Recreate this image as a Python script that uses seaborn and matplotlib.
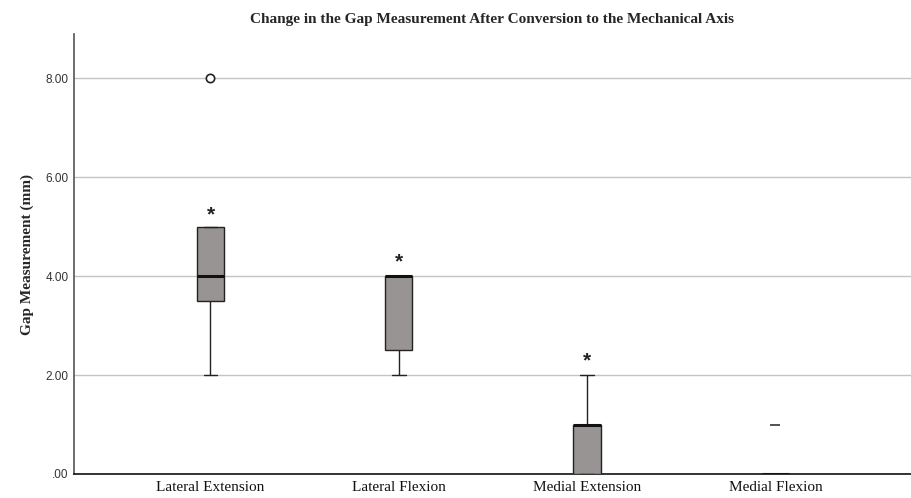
import matplotlib
matplotlib.use("Agg")
import matplotlib.pyplot as plt
import seaborn as sns
import pandas as pd

# ---- data ----
categories = ["Lateral Extension", "Lateral Flexion", "Medial Extension", "Medial Flexion"]
lateral_extension = [2, 3, 3.5, 4, 4, 5, 5, 5, 8]
lateral_flexion = [2, 2, 2.5, 3, 4, 4, 4, 4, 4]
medial_extension = [0, 0, 0, 0.5, 1, 1, 1, 1, 2]
medial_flexion = [0, 0, 0, 0, 0, 0, 0, 0, 1]

# outliers shown individually (circle / dash as in the source)
outlier_cats = ["Lateral Extension", "Medial Flexion"]
outlier_vals = [8, 1]
outlier_markers = ["o", "_"]

# significance asterisks above boxes
star_cats = ["Lateral Extension", "Lateral Flexion", "Medial Extension"]
star_vals = [5.24, 4.29, 2.29]

yticks = [0, 2, 4, 6, 8]
ytick_labels = [".00", "2.00", "4.00", "6.00", "8.00"]

series = [lateral_extension, lateral_flexion, medial_extension, medial_flexion]
df = pd.DataFrame({
    "group": [c for c, s in zip(categories, series) for _ in s],
    "value": [v for s in series for v in s],
})

sns.set_theme(style="white")
plt.rcParams["font.family"] = ["Liberation Serif", "DejaVu Serif"]

fig = plt.figure(figsize=(9.11, 4.98), dpi=100)
ax = fig.add_axes([0.0812, 0.0482, 0.9188, 0.8835])

for y in yticks[1:]:
    ax.axhline(y, color="#c4c4c4", lw=1.0, zorder=0)

sns.boxplot(data=df, x="group", y="value", order=categories, ax=ax,
            width=0.145, showfliers=False, whis=1.5,
            color="#999494", saturation=1,
            boxprops=dict(edgecolor="#222222", linewidth=1.0, facecolor="#999494"),
            medianprops=dict(color="#111111", linewidth=2.2),
            whiskerprops=dict(color="#222222", linewidth=1.0),
            capprops=dict(color="#222222", linewidth=1.0),
            zorder=7)

for c, v, m in zip(outlier_cats, outlier_vals, outlier_markers):
    xi = categories.index(c)
    if m == "o":
        ax.plot([xi], [v], marker="o", ms=6, mfc="white", mec="#222222", mew=1.2, ls="none", zorder=4)
    else:
        ax.plot([xi], [v], marker="_", ms=7, mec="#444444", mew=1.3, ls="none", zorder=4)

for c, v in zip(star_cats, star_vals):
    xi = categories.index(c)
    ax.text(xi, v, "*", ha="center", va="center", fontsize=15, fontweight="bold",
            family=["Liberation Sans", "DejaVu Sans"], color="#222222", zorder=5)

ax.set_xlim(-0.725, 3.72)
ax.set_ylim(0, 8.89)
ax.set_yticks(yticks)
ax.set_yticklabels(ytick_labels, family=["Liberation Sans", "DejaVu Sans"], fontsize=8.5, color="#333333")
ax.set_xticks(range(len(categories)))
ax.set_xticklabels(categories, fontsize=11, color="#111111")
ax.tick_params(axis="both", length=0, pad=4)
ax.tick_params(axis="x", pad=5)
ax.set_xlabel("")
ax.set_ylabel("Gap Measurement (mm)", fontsize=11, fontweight="bold", labelpad=8)
ax.set_title("Change in the Gap Measurement After Conversion to the Mechanical Axis",
             fontsize=11, fontweight="bold", pad=8)

for s in ["top", "right"]:
    ax.spines[s].set_visible(False)
ax.spines["left"].set_color("#555555")
ax.spines["left"].set_linewidth(1.2)
ax.spines["bottom"].set_color("#111111")
ax.spines["bottom"].set_linewidth(1.2)
ax.spines["left"].set_zorder(6)
ax.spines["bottom"].set_zorder(6)

fig.savefig("out.png", dpi=100)
